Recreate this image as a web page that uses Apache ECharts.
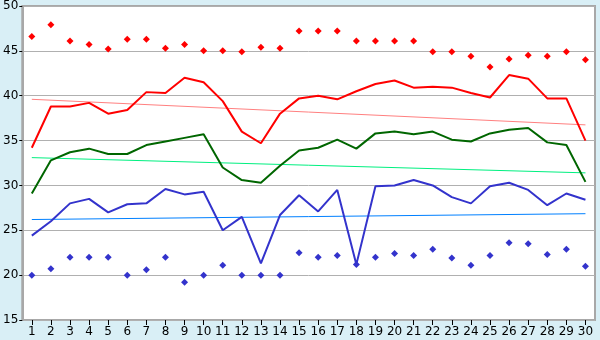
<!DOCTYPE html>
<html>
<head>
<meta charset="utf-8">
<script src="https://cdn.jsdelivr.net/npm/echarts@6/dist/echarts.min.js"></script>
<style>
  html, body { margin: 0; padding: 0; background: #d9eff6; }
  #chart { width: 600px; height: 340px; }
</style>
</head>
<body>
<div id="chart"></div>
<script>
const days = ['1','2','3','4','5','6','7','8','9','10','11','12','13','14','15',
  '16','17','18','19','20','21','22','23','24','25','26','27','28','29','30']

// daily max / avg / min
const maxLine = [34.2, 38.8, 38.8, 39.2, 38.0, 38.4, 40.4, 40.3, 42.0, 41.5,
  39.4, 36.0, 34.7, 38.0, 39.7, 40.0, 39.6, 40.5, 41.3, 41.7,
  40.9, 41.0, 40.9, 40.3, 39.8, 42.3, 41.9, 39.7, 39.7, 35.0]
const avgLine = [29.1, 32.8, 33.7, 34.1, 33.5, 33.5, 34.5, 34.9, 35.3, 35.7,
  32.0, 30.6, 30.3, 32.2, 33.9, 34.2, 35.1, 34.1, 35.8, 36.0,
  35.7, 36.0, 35.1, 34.9, 35.8, 36.2, 36.4, 34.8, 34.5, 30.4]
const minLine = [24.4, 26.0, 28.0, 28.5, 27.0, 27.9, 28.0, 29.6, 29.0, 29.3,
  25.0, 26.5, 21.3, 26.7, 28.9, 27.1, 29.5, 21.2, 29.9, 30.0,
  30.6, 30.0, 28.7, 28.0, 29.9, 30.3, 29.5, 27.8, 29.1, 28.4]

// extreme points
const highDots = [46.6, 47.9, 46.1, 45.7, 45.2, 46.3, 46.3, 45.3, 45.7, 45.0,
  45.0, 44.9, 45.4, 45.3, 47.2, 47.2, 47.2, 46.1, 46.1, 46.1,
  46.1, 44.9, 44.9, 44.4, 43.2, 44.1, 44.5, 44.4, 44.9, 44.0]
const lowDots = [20.0, 20.7, 22.0, 22.0, 22.0, 20.0, 20.6, 22.0, 19.2, 20.0,
  21.1, 20.0, 20.0, 20.0, 22.5, 22.0, 22.2, 21.2, 22.0, 22.4,
  22.2, 22.9, 21.9, 21.1, 22.2, 23.6, 23.5, 22.3, 22.9, 21.0]

// trend lines: value at day 1 and day 30
const maxTrend = [39.6, 36.75]
const avgTrend = [33.1, 31.4]
const minTrend = [26.2, 26.85]

const yTicks = { min: 15, max: 50, interval: 5 }

const ends = (pair) => days.map((d, i) => i === 0 ? pair[0] : (i === days.length - 1 ? pair[1] : null))

const chart = echarts.init(document.getElementById('chart'), null, { renderer: 'canvas' })

const lineSeries = (data, color, width, z) => ({
  type: 'line',
  data: data,
  symbol: 'none',
  connectNulls: true,
  silent: true,
  animation: false,
  z: z,
  lineStyle: { color: color, width: width }
})

const dotSeries = (data, color) => ({
  type: 'scatter',
  data: data,
  symbol: 'diamond',
  symbolSize: 7,
  animation: false,
  z: 5,
  itemStyle: { color: color, opacity: 1 }
})

chart.setOption({
  backgroundColor: '#d9eff6',
  textStyle: { fontFamily: 'DejaVu Sans' },
  grid: {
    left: 20, right: 5, top: 5, bottom: 20,
    show: true,
    backgroundColor: '#ffffff',
    borderColor: '#a8a8a8',
    borderWidth: 2
  },
  xAxis: {
    type: 'category',
    data: days,
    boundaryGap: true,
    axisLine: { show: false },
    axisTick: { show: true, alignWithLabel: true, length: 5, lineStyle: { color: '#000' } },
    axisLabel: { color: '#000', fontSize: 12, margin: 6, interval: 0 },
    splitLine: { show: false }
  },
  yAxis: {
    type: 'value',
    min: yTicks.min,
    max: yTicks.max,
    interval: yTicks.interval,
    axisLine: { show: true, lineStyle: { color: '#a8a8a8', width: 2 } },
    axisTick: { show: true, length: 3, lineStyle: { color: '#000' } },
    axisLabel: { color: '#000', fontSize: 12, margin: 4 },
    splitLine: { show: true, lineStyle: { color: '#b0b0b0', width: 1 } }
  },
  series: [
    lineSeries(ends(maxTrend), '#ff8080', 1, 2),
    lineSeries(ends(avgTrend), '#00f080', 1, 2),
    lineSeries(ends(minTrend), '#0080ff', 1, 2),
    lineSeries(maxLine, '#ff0000', 2, 3),
    lineSeries(avgLine, '#006600', 2, 3),
    lineSeries(minLine, '#3333cc', 2, 3),
    dotSeries(highDots, '#ff0000'),
    dotSeries(lowDots, '#3333cc')
  ]
})
</script>
</body>
</html>
